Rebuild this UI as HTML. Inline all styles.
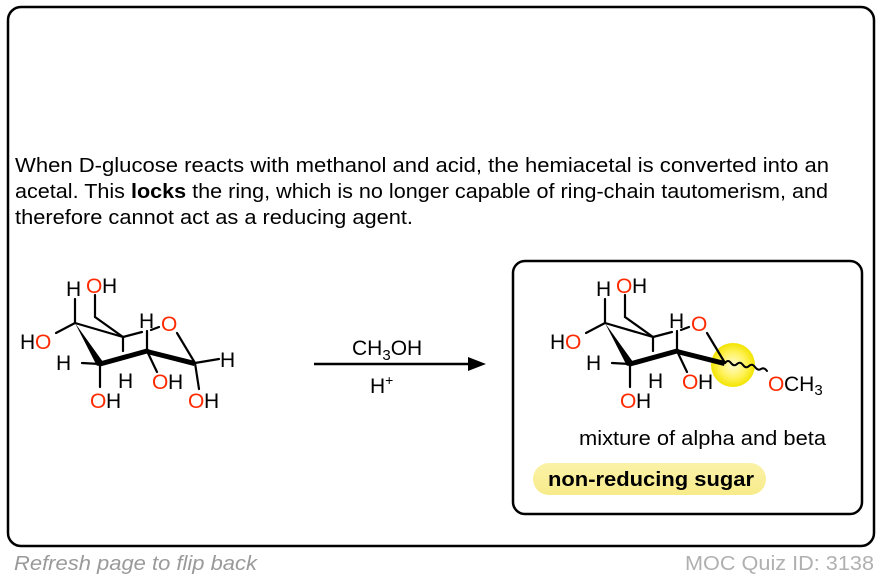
<!DOCTYPE html>
<html><head><meta charset="utf-8"><style>
html,body{margin:0;padding:0;background:#fff;}
body{width:882px;height:580px;overflow:hidden;position:relative;font-family:"Liberation Sans",Arial,sans-serif;}
</style></head><body>
<svg width="882" height="580" viewBox="0 0 882 580" xmlns="http://www.w3.org/2000/svg" style="position:absolute;left:0;top:0" font-family="Liberation Sans, Arial, sans-serif">
<defs>
<radialGradient id="yg" cx="50%" cy="50%" r="50%"><stop offset="0" stop-color="#fffbd0"/><stop offset="0.6" stop-color="#fff25a"/><stop offset="1" stop-color="#f2e400"/></radialGradient>
<linearGradient id="pg" x1="0" y1="0" x2="0" y2="1"><stop offset="0" stop-color="#fbf2a8"/><stop offset="1" stop-color="#f7eb8a"/></linearGradient>
</defs>
<rect x="8" y="7" width="866" height="539" rx="13" fill="#fff" stroke="#000" stroke-width="2.5"/>
<g font-size="20" fill="#000">
<text x="15" y="172" textLength="814" lengthAdjust="spacingAndGlyphs">When D-glucose reacts with methanol and acid, the hemiacetal is converted into an</text>
<text x="15" y="198" textLength="813" lengthAdjust="spacingAndGlyphs">acetal. This <tspan font-weight="bold">locks</tspan> the ring, which is no longer capable of ring-chain tautomerism, and</text>
<text x="15" y="224" textLength="398" lengthAdjust="spacingAndGlyphs">therefore cannot act as a reducing agent.</text>
</g>
<rect x="513" y="261" width="349" height="253" rx="12" fill="#fff" stroke="#000" stroke-width="2.5"/>

<line x1="314" y1="364" x2="472" y2="364" stroke="#000" stroke-width="2.5"/>
<polygon points="486,364 468,357 468,371" fill="#000"/>
<text x="352" y="355" font-size="21">CH<tspan font-size="15" dy="5">3</tspan><tspan dy="-5">OH</tspan></text>
<text x="370" y="393" font-size="21">H<tspan font-size="14" dy="-8">+</tspan></text>

<g stroke="#000" stroke-width="2.2" fill="none" stroke-linecap="round">
<line x1="75" y1="323" x2="75" y2="299"/>
<line x1="75" y1="323" x2="56" y2="333"/>
<line x1="75" y1="323" x2="123" y2="337"/>
<line x1="123" y1="337" x2="95" y2="317"/>
<line x1="95" y1="317" x2="95" y2="295"/>
<line x1="123" y1="337" x2="123" y2="351"/>
<line x1="123" y1="337" x2="142" y2="332"/>
<line x1="151" y1="330" x2="159" y2="327"/>
<line x1="177" y1="333" x2="195" y2="363"/>
<line x1="147" y1="351" x2="147" y2="331"/>
<line x1="100" y1="364" x2="82" y2="363"/>
<line x1="100" y1="364" x2="100" y2="387"/>
<line x1="147" y1="351" x2="157" y2="372"/>
<line x1="195" y1="363" x2="219" y2="359"/>
<line x1="195" y1="363" x2="199" y2="389"/>
<line x1="100" y1="364" x2="147" y2="351" stroke-width="5"/>
</g>
<polygon points="75,323 97,366 103,362" fill="#000"/>
<polygon points="147,349 195,361 194,366 147,354" fill="#000"/>
<g font-size="21">
<text x="66" y="296">H</text>
<text x="86" y="293" fill="#ff2a00">O</text><text x="102" y="293">H</text>
<text x="20" y="349">H</text><text x="35" y="349" fill="#ff2a00">O</text>
<text x="56" y="370">H</text>
<text x="118" y="388">H</text>
<text x="139" y="328">H</text>
<text x="161" y="331" fill="#ff2a00">O</text>
<text x="220" y="367">H</text>
<text x="152" y="389" fill="#ff2a00">O</text><text x="168" y="389">H</text>
<text x="90" y="408" fill="#ff2a00">O</text><text x="106" y="408">H</text>
<text x="188" y="408" fill="#ff2a00">O</text><text x="204" y="408">H</text>
</g>

<g transform="translate(530,0)">
<circle cx="203" cy="365" r="22" fill="url(#yg)"/>
<g stroke="#000" stroke-width="2.2" fill="none" stroke-linecap="round">
<line x1="75" y1="323" x2="75" y2="299"/>
<line x1="75" y1="323" x2="56" y2="333"/>
<line x1="75" y1="323" x2="123" y2="337"/>
<line x1="123" y1="337" x2="95" y2="317"/>
<line x1="95" y1="317" x2="95" y2="295"/>
<line x1="123" y1="337" x2="123" y2="351"/>
<line x1="123" y1="337" x2="142" y2="332"/>
<line x1="151" y1="330" x2="159" y2="327"/>
<line x1="177" y1="333" x2="195" y2="363"/>
<line x1="147" y1="351" x2="147" y2="331"/>
<line x1="100" y1="364" x2="82" y2="363"/>
<line x1="100" y1="364" x2="100" y2="387"/>
<line x1="147" y1="351" x2="157" y2="372"/>
<line x1="100" y1="364" x2="147" y2="351" stroke-width="5"/>
<path d="M195,363 q3,-4 6,0 t6,1 t6,1 t6,1 t6,1 t6,2 t6,2" stroke-width="2"/>
</g>
<polygon points="75,323 97,366 103,362" fill="#000"/>
<polygon points="147,349 195,361 194,366 147,354" fill="#000"/>
<g font-size="21">
<text x="66" y="296">H</text>
<text x="86" y="293" fill="#ff2a00">O</text><text x="102" y="293">H</text>
<text x="20" y="349">H</text><text x="35" y="349" fill="#ff2a00">O</text>
<text x="56" y="370">H</text>
<text x="118" y="388">H</text>
<text x="139" y="328">H</text>
<text x="161" y="331" fill="#ff2a00">O</text>
<text x="152" y="389" fill="#ff2a00">O</text><text x="168" y="389">H</text>
<text x="90" y="408" fill="#ff2a00">O</text><text x="106" y="408">H</text>
<text x="238" y="391" fill="#ff2a00">O</text><text x="254" y="391">CH<tspan font-size="15" dy="4">3</tspan></text>
</g>
</g>

<text x="579" y="445" font-size="20" textLength="247" lengthAdjust="spacingAndGlyphs">mixture of alpha and beta</text>
<rect x="533" y="463" width="233" height="32" rx="16" fill="url(#pg)"/>
<text x="548" y="486" font-size="20" font-weight="bold" textLength="206" lengthAdjust="spacingAndGlyphs">non-reducing sugar</text>

<text x="14" y="570" font-size="20" font-style="italic" fill="#9a9a9a" textLength="243" lengthAdjust="spacingAndGlyphs">Refresh page to flip back</text>
<text x="685" y="570" font-size="20" fill="#b0b0b0" textLength="189" lengthAdjust="spacingAndGlyphs">MOC Quiz ID: 3138</text>
</svg>
</body></html>
